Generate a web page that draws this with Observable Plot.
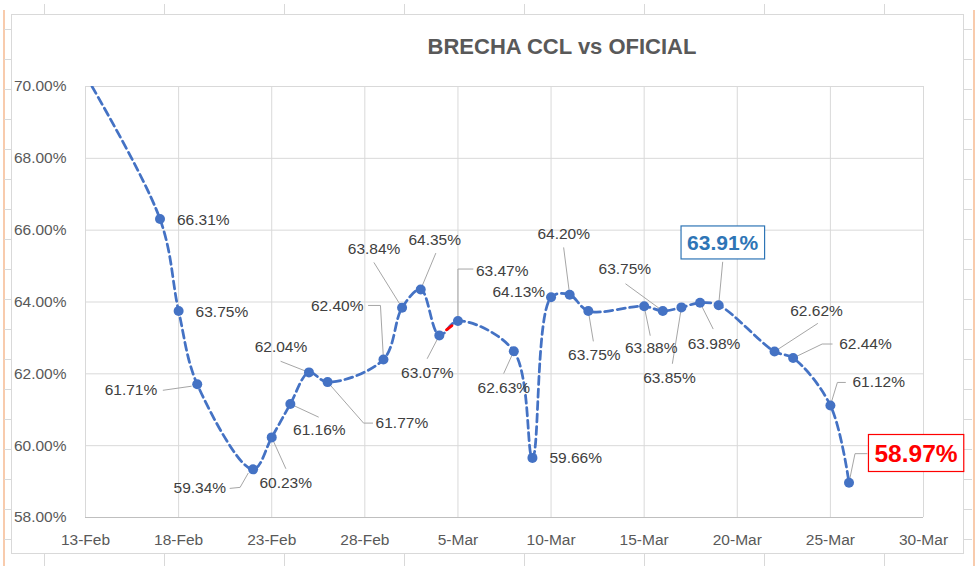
<!DOCTYPE html>
<html>
<head>
<meta charset="utf-8">
<script src="https://cdn.jsdelivr.net/npm/d3@7"></script>
<script src="https://cdn.jsdelivr.net/npm/@observablehq/plot@0.6"></script>
<style>
  body { margin: 0; background: #fff; }
  #wrap { position: relative; width: 980px; height: 566px; overflow: hidden; font-family: "Liberation Sans", Arial, sans-serif; background:#fff; }
  #wrap svg { position: absolute; left: 0; top: 0; }
  .frame { position: absolute; left: 11px; top: 14px; width: 951px; height: 538px; border: 1px solid #d9d9d9; }
  .orange { position: absolute; top: 10px; width: 1.5px; height: 556px; background: #f8cbad; }
  .rowticks { position: absolute; top: 10px; width: 8px; height: 556px;
    background: repeating-linear-gradient(to bottom, transparent 0px, transparent 19px, #d9d9d9 19px, #d9d9d9 20px, transparent 20px, transparent 30px); }
  .colticks { position: absolute; left: 0; width: 980px;
    background: repeating-linear-gradient(to right, transparent 0px, transparent 44px, #d9d9d9 44px, #d9d9d9 45px, transparent 45px, transparent 120px); }
  #title { position: absolute; left: 562px; top: 35px; transform: translateX(-50%); white-space: nowrap;
    font: bold 22px "Liberation Sans", Arial, sans-serif; color: #595959; line-height: 24px; }
</style>
</head>
<body>
<div id="wrap">
  <div class="orange" style="left:3px"></div>
  <div class="orange" style="left:973px"></div>
  <div class="rowticks" style="left:4px"></div>
  <div class="rowticks" style="left:964px"></div>
  <div class="colticks" style="top:4px;height:10px"></div>
  <div class="colticks" style="top:554px;height:12px"></div>
  <div class="frame"></div>
  <div id="title">BRECHA CCL vs OFICIAL</div>
</div>
<script>
// ---- data ----
const dates = [
  "2021-02-12","2021-02-17","2021-02-18","2021-02-19","2021-02-22","2021-02-23","2021-02-24","2021-02-25","2021-02-26",
  "2021-03-01","2021-03-02","2021-03-03","2021-03-04","2021-03-05","2021-03-08","2021-03-09","2021-03-10","2021-03-11",
  "2021-03-12","2021-03-15","2021-03-16","2021-03-17","2021-03-18","2021-03-19","2021-03-22","2021-03-23","2021-03-25","2021-03-26"
];
const values = [
  71.2, 66.31, 63.75, 61.71, 59.34, 60.23, 61.16, 62.04, 61.77,
  62.40, 63.84, 64.35, 63.07, 63.47, 62.63, 59.66, 64.13, 64.20,
  63.75, 63.88, 63.75, 63.85, 63.98, 63.91, 62.62, 62.44, 61.12, 58.97
];
const xTicks = ["2021-02-13","2021-02-18","2021-02-23","2021-02-28","2021-03-05","2021-03-10","2021-03-15","2021-03-20","2021-03-25","2021-03-30"];
const yTicks = [58, 60, 62, 64, 66, 68, 70];
const xDomain = ["2021-02-13", "2021-03-30"];
const yDomain = [58, 70];
const redSegment = ["2021-03-04", "2021-03-05"];

// ---- label placement (pixel offsets from each point) ----
const labelLayout = [
  null,
  {dx:17, dy:1, anchor:"start"},
  {dx:17, dy:1, anchor:"start"},
  {dx:-40, dy:6, anchor:"end", leader:[[-6,2],[-34,6]]},
  {dx:-27, dy:19, anchor:"end", leader:[[-5,4],[-13,18],[-23,19]]},
  {dx:14, dy:46, anchor:"middle", leader:[[0,0],[14,31]]},
  {dx:29, dy:26, anchor:"middle", leader:[[0,0],[28,13]]},
  {dx:-28, dy:-25, anchor:"middle", leader:[[0,0],[-28,-11]]},
  {dx:48, dy:41, anchor:"start", leader:[[0,0],[36,41],[45,41]]},
  {dx:-20, dy:-53, anchor:"end", leader:[[0,0],[-3,-54],[-15,-54]]},
  {dx:-28, dy:-59, anchor:"middle", leader:[[0,0],[-28,-45]]},
  {dx:14, dy:-49, anchor:"middle", leader:[[0,0],[15,-36]]},
  {dx:-12, dy:38, anchor:"middle", leader:[[0,0],[-12,23]]},
  {dx:18, dy:-50, anchor:"start", leader:[[0,0],[0,-52],[15,-52]]},
  {dx:-10, dy:37, anchor:"middle", leader:[[0,0],[-10,22]]},
  {dx:17, dy:0, anchor:"start"},
  {dx:-6, dy:-5, anchor:"end"},
  {dx:-6, dy:-61, anchor:"middle", leader:[[0,0],[-6,-47]]},
  {dx:6, dy:44, anchor:"middle", leader:[[0,0],[5,30]]},
  {dx:7, dy:42, anchor:"middle", leader:[[0,0],[6,29]]},
  {dx:-38, dy:-42, anchor:"middle", leader:[[0,0],[-37,-27]]},
  {dx:-12, dy:71, anchor:"middle", leader:[[0,0],[-9,56]]},
  {dx:14, dy:41, anchor:"middle", leader:[[0,0],[13,26]]},
  {dx:4, dy:-62, anchor:"middle", leader:[[0,0],[4,-43]], box:"#2E75B6", size:21},
  {dx:42, dy:-41, anchor:"middle", leader:[[0,0],[43,-28]]},
  {dx:46, dy:-14, anchor:"start", leader:[[0,0],[29,-14],[39,-14]]},
  {dx:22, dy:-23, anchor:"start", leader:[[0,0],[7,-23],[15,-23]]},
  {dx:67, dy:-29, anchor:"middle", leader:[[0,0],[6,-29],[18,-29]], box:"#FF0000", size:24.5}
];

const parse = s => new Date(s + "T00:00:00Z");
const rows = dates.map((d, i) => ({date: parse(d), value: values[i], i}));
const fmt = v => v.toFixed(2) + "%";

const common = {
  width: 980, height: 566,
  marginLeft: 85, marginRight: 57, marginTop: 86, marginBottom: 49,
  style: {background: "transparent", fontFamily: "'Liberation Sans', Arial, sans-serif", fontSize: "15.5px", color: "#595959", overflow: "visible"},
  x: {type: "utc", domain: xDomain.map(parse), ticks: xTicks.map(parse), tickFormat: d3.utcFormat("%-d-%b"), tickSize: 0, tickPadding: 16, label: null},
  y: {domain: yDomain, ticks: yTicks, tickFormat: d => d.toFixed(2) + "%", tickSize: 0, tickPadding: 19, label: null}
};

// probe pass to read the scales
const probe = Plot.plot({...common, marks: [Plot.ruleY([yDomain[0]])]});
const xsd = probe.scale("x"), ysd = probe.scale("y");
const xS = d3.scaleUtc(xsd.domain, xsd.range);
const yS = d3.scaleLinear(ysd.domain, ysd.range);

// leader polylines in data space
const leaderRows = [];
rows.forEach((r, i) => {
  const L = labelLayout[i];
  if (!L || !L.leader) return;
  const px = xS(r.date), py = yS(r.value);
  L.leader.forEach(([ox, oy]) => leaderRows.push({id: i, date: xS.invert(px + ox), value: yS.invert(py + oy)}));
});

const textMarks = rows.map((r, i) => {
  const L = labelLayout[i];
  if (!L) return null;
  return Plot.text([r], {
    x: "date", y: "value", text: d => fmt(d.value),
    dx: L.dx, dy: L.dy, textAnchor: L.anchor,
    fill: L.box ? L.box : "#404040",
    fontSize: L.size ? L.size : 15.5,
    fontWeight: L.box ? "bold" : "normal"
  });
}).filter(Boolean);

const chart = Plot.plot({
  ...common,
  marks: [
    Plot.ruleX(xTicks.map(parse), {stroke: "#d9d9d9", strokeWidth: 1}),
    Plot.ruleY(yTicks, {stroke: "#d9d9d9", strokeWidth: 1}),
    Plot.ruleY([yDomain[0]], {stroke: "#bfbfbf", strokeWidth: 1}),
    Plot.line(leaderRows, {x: "date", y: "value", z: "id", stroke: "#a6a6a6", strokeWidth: 1, curve: "linear"}),
    Plot.line(rows, {x: "date", y: "value", curve: "catmull-rom", stroke: "#4472C4", strokeWidth: 2.75, strokeDasharray: "8,4.5", clip: true}),
    Plot.line(rows.filter(r => redSegment.includes(d3.utcFormat("%Y-%m-%d")(r.date))), {x: "date", y: "value", stroke: "#FF0000", strokeWidth: 2.75, strokeDasharray: "0,9,7,200"}),
    Plot.dot(rows, {x: "date", y: "value", r: 5, fill: "#4472C4", stroke: "none", clip: true}),
    ...textMarks
  ]
});

const wrap = document.getElementById("wrap");
wrap.insertBefore(chart, document.getElementById("title"));

// boxes around highlighted labels
const boxed = labelLayout.map((L, i) => L && L.box ? {text: fmt(values[i]), color: L.box} : null).filter(Boolean);
chart.querySelectorAll("text").forEach(t => {
  const b = boxed.find(o => o.text === t.textContent.trim());
  if (!b) return;
  const bb = t.getBBox();
  const pad = 6;
  const rect = document.createElementNS("http://www.w3.org/2000/svg", "rect");
  rect.setAttribute("x", bb.x - pad);
  rect.setAttribute("y", bb.y - pad + 1);
  rect.setAttribute("width", bb.width + 2 * pad);
  rect.setAttribute("height", bb.height + 2 * pad - 2);
  rect.setAttribute("fill", "white");
  rect.setAttribute("stroke", b.color);
  rect.setAttribute("stroke-width", 1.2);
  const tr = t.getAttribute("transform");
  if (tr) rect.setAttribute("transform", tr);
  t.parentNode.insertBefore(rect, t);
});
</script>
</body>
</html>
